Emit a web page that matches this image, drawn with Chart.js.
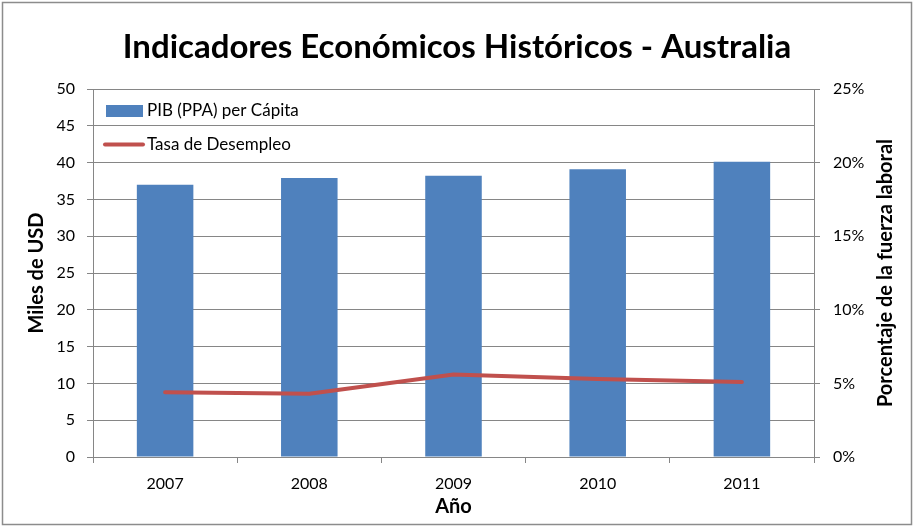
<!DOCTYPE html>
<html>
<head>
<meta charset="utf-8">
<script src="https://cdn.jsdelivr.net/npm/chart.js@4"></script>
<style>
  html, body { margin: 0; padding: 0; background: #ffffff; }
  canvas { display: block; }
</style>
</head>
<body>
<canvas id="chart" width="914" height="527"></canvas>
<script>
const years = ['2007', '2008', '2009', '2010', '2011'];
const pibPerCapita = [37.0, 37.9, 38.2, 39.1, 40.1];   // miles de USD
const desempleo = [4.4, 4.3, 5.6, 5.3, 5.1];          // % fuerza laboral
const leftTicks = [0, 5, 10, 15, 20, 25, 30, 35, 40, 45, 50];
const rightTicks = [0, 5, 10, 15, 20, 25];

const FONT = 'Lato, "Open Sans", "DejaVu Sans", sans-serif';
const GRID = '#868686';
const BLUE = '#4F81BD';
const RED = '#C0504D';

// white background + outer frame
const framePlugin = {
  id: 'frame',
  beforeDraw(chart) {
    const ctx = chart.ctx;
    ctx.save();
    ctx.fillStyle = '#ffffff';
    ctx.fillRect(0, 0, chart.width, chart.height);
    ctx.strokeStyle = '#8c8c8c';
    ctx.lineWidth = 1.5;
    ctx.strokeRect(2.5, 2.5, chart.width - 5, chart.height - 5);
    ctx.restore();
  }
};

// legend inside the plot area, plus right axis title reading bottom-to-top
const extrasPlugin = {
  id: 'extras',
  afterDraw(chart) {
    const ctx = chart.ctx;
    const area = chart.chartArea;
    ctx.save();
    ctx.font = '17px ' + FONT;
    ctx.fillStyle = '#000000';
    ctx.textBaseline = 'middle';
    ctx.textAlign = 'left';

    const ds = chart.data.datasets;
    // bar entry
    ctx.fillStyle = ds[0].backgroundColor;
    ctx.fillRect(area.left + 13, 105, 37, 12);
    ctx.fillStyle = '#000000';
    ctx.fillText(ds[0].label, area.left + 54, 111);
    // line entry
    ctx.strokeStyle = ds[1].borderColor;
    ctx.lineWidth = 4;
    ctx.lineCap = 'round';
    ctx.beginPath();
    ctx.moveTo(area.left + 12, 144.5);
    ctx.lineTo(area.left + 50, 144.5);
    ctx.stroke();
    ctx.fillText(ds[1].label, area.left + 54, 145);

    // right axis title
    ctx.font = 'bold 20px ' + FONT;
    ctx.textAlign = 'center';
    ctx.translate(886, (area.top + area.bottom) / 2);
    ctx.rotate(-Math.PI / 2);
    ctx.fillText('Porcentaje de la fuerza laboral', 0, 0);
    ctx.restore();
  }
};

const ctx = document.getElementById('chart').getContext('2d');

new Chart(ctx, {
  data: {
    labels: years,
    datasets: [
      {
        type: 'bar',
        label: 'PIB (PPA) per Cápita',
        data: pibPerCapita,
        backgroundColor: BLUE,
        borderWidth: 0,
        categoryPercentage: 0.8,
        barPercentage: 0.49,
        yAxisID: 'y',
        order: 1
      },
      {
        type: 'line',
        label: 'Tasa de Desempleo',
        data: desempleo,
        borderColor: RED,
        backgroundColor: RED,
        borderWidth: 4,
        borderCapStyle: 'round',
        borderJoinStyle: 'round',
        pointRadius: 0,
        tension: 0,
        fill: false,
        yAxisID: 'y1',
        order: 0
      }
    ]
  },
  options: {
    responsive: false,
    devicePixelRatio: 1,
    animation: false,
    layout: { padding: 0 },
    plugins: {
      legend: { display: false },
      tooltip: { enabled: false },
      title: {
        display: true,
        text: 'Indicadores Económicos Históricos - Australia',
        color: '#000000',
        font: { family: FONT, size: 33, weight: 'bold', lineHeight: 1.2 },
        padding: { top: 27.2, bottom: 22.2 }
      }
    },
    scales: {
      x: {
        offset: true,
        grid: {
          offset: true,
          drawOnChartArea: false,
          drawTicks: true,
          tickLength: 6,
          color: GRID
        },
        border: { display: true, color: GRID, width: 1 },
        ticks: {
          color: '#000000',
          padding: 11,
          font: { family: FONT, size: 16 }
        },
        title: {
          display: true,
          text: 'Año',
          color: '#000000',
          font: { family: FONT, size: 20, weight: 'bold', lineHeight: 1.2 },
          padding: { top: 0, bottom: 8 }
        },
        afterFit(scale) { scale.height = 70; }
      },
      y: {
        position: 'left',
        min: 0,
        max: 50,
        afterBuildTicks(scale) { scale.ticks = leftTicks.map(v => ({ value: v })); },
        grid: {
          color: GRID,
          drawTicks: true,
          tickLength: 6
        },
        border: { display: true, color: GRID, width: 1 },
        ticks: {
          color: '#000000',
          padding: 12,
          font: { family: FONT, size: 16 }
        },
        title: {
          display: true,
          text: 'Miles de USD',
          color: '#000000',
          font: { family: FONT, size: 20, weight: 'bold', lineHeight: 1.2 },
          padding: { top: 25, bottom: 0 }
        },
        afterFit(scale) { scale.width = 93; }
      },
      y1: {
        position: 'right',
        min: 0,
        max: 25,
        afterBuildTicks(scale) { scale.ticks = rightTicks.map(v => ({ value: v })); },
        grid: {
          color: GRID,
          drawOnChartArea: false,
          drawTicks: true,
          tickLength: 6
        },
        border: { display: true, color: GRID, width: 1 },
        ticks: {
          color: '#000000',
          padding: 13,
          font: { family: FONT, size: 16 },
          callback: v => v + '%'
        },
        afterFit(scale) { scale.width = 100; }
      }
    }
  },
  plugins: [framePlugin, extrasPlugin]
});
</script>
</body>
</html>
